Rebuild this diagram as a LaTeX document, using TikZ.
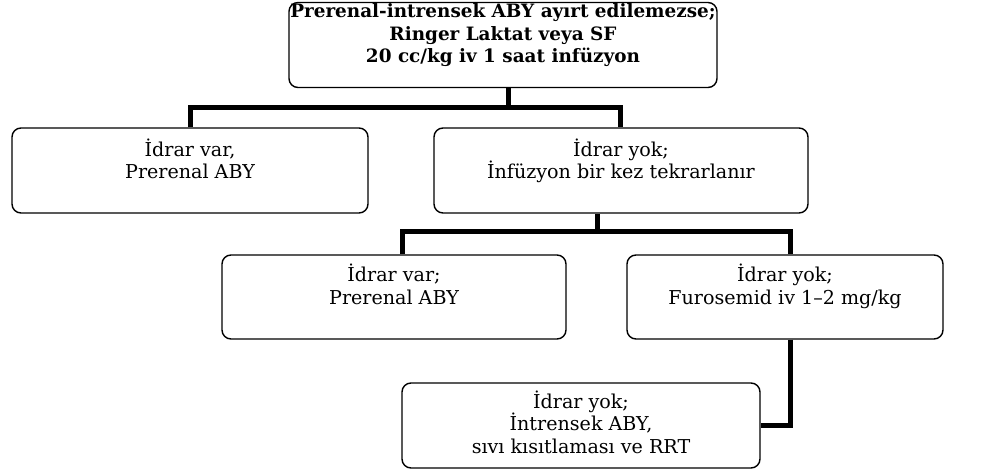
\documentclass[tikz,border=0pt]{standalone}
\usepackage{fontspec}
\setmainfont{DejaVu Serif}
\begin{document}
\begin{tikzpicture}[x=1pt,y=-1pt,
  box/.style={draw=black,line width=1.4pt,rounded corners=9pt,inner sep=0pt},
  txt/.style={align=center,anchor=base,inner sep=0pt,font=\fontsize{19.1}{22.5}\selectfont},
  btxt/.style={txt,font=\fontsize{18.4}{22.5}\selectfont\bfseries},
  conn/.style={line width=5pt}]
\useasboundingbox (0,0) rectangle (996,473);
% boxes
\node[box,minimum width=428pt,minimum height=85pt] (top) at (503,45) {};
\node[box,minimum width=356pt,minimum height=85pt] (l1) at (190,170.5) {};
\node[box,minimum width=374pt,minimum height=85pt] (r1) at (621,170.5) {};
\node[box,minimum width=344pt,minimum height=84pt] (l2) at (394,297) {};
\node[box,minimum width=316pt,minimum height=84pt] (r2) at (785,297) {};
\node[box,minimum width=358pt,minimum height=85pt] (l3) at (581,425.5) {};
% texts
\node[btxt] (ttop) at (503,63) {Prerenal-intrensek ABY ayırt edilemezse;\\Ringer Laktat veya SF\\20 cc/kg iv 1 saat infüzyon};
\node[txt] (tl1) at (190,179) {İdrar var,\\Prerenal ABY};
\node[txt] (tr1) at (621,179) {İdrar yok;\\İnfüzyon bir kez tekrarlanır};
\node[txt] (tl2) at (394,304) {İdrar var;\\Prerenal ABY};
\node[txt] (tr2) at (785,304) {İdrar yok;\\Furosemid iv 1–2 mg/kg};
\node[txt] (tl3) at (581,453) {İdrar yok;\\İntrensek ABY,\\sıvı kısıtlaması ve RRT};
% connectors
\coordinate (b1) at (508,108);
\coordinate (b2) at (597,232);
\draw[conn] (top.south -| b1) -- (b1);
\draw[conn] (l1.north -| 190,0) |- (b1) -| (r1.north -| 620,0);
\draw[conn] (r1.south -| b2) -- (b2);
\draw[conn] (l2.north -| 402,0) |- (b2) -| (r2.north -| 790,0);
\draw[conn] (r2.south -| 790,0) |- (l3.east);
\end{tikzpicture}
\end{document}
